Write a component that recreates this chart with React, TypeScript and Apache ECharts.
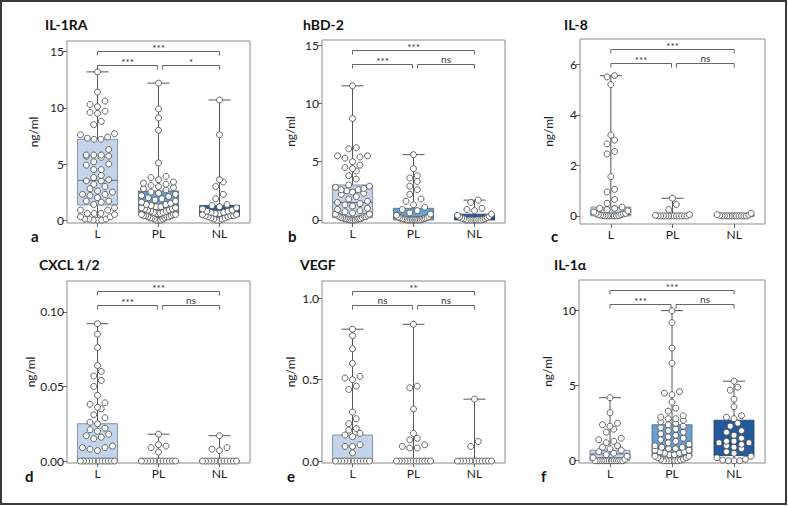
import React, { useEffect, useRef } from "react";
import * as echarts from "echarts";

const FONT = "Lato, 'Open Sans', sans-serif";

// ---------- data ----------
const groups = ["L", "PL", "NL"];
const panelTitles = ["IL-1RA", "hBD-2", "IL-8", "CXCL 1/2", "VEGF", "IL-1α"];
const panelLetters = ["a", "b", "c", "d", "e", "f"];
const yTickValues = [
  [0, 5, 10, 15],
  [0, 5, 10, 15],
  [0, 2, 4, 6],
  [0, 0.05, 0.1],
  [0, 0.5, 1],
  [0, 5, 10],
];
const yTickDecimals = [0, 0, 0, 2, 1, 0];
const yExtents = [
  [-0.25, 15.95],
  [-0.26, 15.43],
  [-0.32, 7.0],
  [-0.0013, 0.1206],
  [-0.012, 1.106],
  [-0.15, 12.04],
];
// significance: L–NL, L–PL, PL–NL
const sigLabels = [
  ["***", "***", "*"],
  ["***", "***", "ns"],
  ["***", "***", "ns"],
  ["***", "***", "ns"],
  ["**", "ns", "ns"],
  ["***", "***", "ns"],
];
const bracketPairs = [
  [0, 2],
  [0, 1],
  [1, 2],
];

// IL-1RA
const il1raL = [13.2, 11.4, 10.6, 10.3, 10.1, 9.7, 9.6, 9.5, 8.8, 8.5, 7.7, 7.6, 7.4, 7.3, 7.2, 7.2, 6.3, 5.8, 5.8, 5.8, 5.7, 5.7, 5.6, 5.2, 5.0, 4.9, 4.5, 4.5, 4.0, 3.8, 3.6, 3.5, 3.5, 3.2, 3.0, 2.8, 2.6, 2.5, 2.3, 2.3, 2.2, 2.0, 1.7, 1.7, 1.6, 1.4, 1.1, 0.9, 0.9, 0.6, 0.6, 0.6, 0.5, 0.3, 0.3, 0.1, 0.1, 0.1, 0.0, 0.0, 0.0];
const il1raPL = [12.2, 9.9, 9.1, 8.0, 5.1, 3.9, 3.8, 3.6, 3.4, 3.3, 3.2, 3.1, 3.0, 2.9, 2.8, 2.7, 2.5, 2.4, 2.3, 2.2, 2.1, 2.0, 1.9, 1.8, 1.7, 1.6, 1.5, 1.4, 1.4, 1.3, 1.2, 1.2, 1.1, 1.1, 1.0, 1.0, 0.9, 0.9, 0.8, 0.8, 0.7, 0.7, 0.6, 0.6, 0.5, 0.5, 0.5, 0.4, 0.4, 0.4, 0.3, 0.3, 0.3, 0.2, 0.2, 0.2, 0.1, 0.1, 0.0, 0.0, 0.0];
const il1raNL = [10.7, 7.6, 3.6, 3.4, 3.0, 2.3, 1.9, 1.4, 1.3, 1.2, 1.1, 1.0, 0.9, 0.8, 0.8, 0.7, 0.7, 0.6, 0.6, 0.5, 0.5, 0.4, 0.4, 0.4, 0.3, 0.3, 0.2, 0.2, 0.1, 0.1, 0.0, 0.0];
const il1raBox = [
  [0, 1.35, 3.55, 7.2, 13.2],
  [0, 0.5, 1.35, 2.6, 12.2],
  [0, 0.35, 0.7, 1.3, 10.7],
];

// hBD-2
const hbd2L = [11.5, 8.7, 6.2, 6.1, 5.5, 5.5, 5.4, 5.3, 5.0, 4.7, 4.5, 4.4, 4.2, 3.8, 3.5, 3.0, 2.9, 2.8, 2.7, 2.6, 2.6, 2.5, 2.4, 2.3, 2.2, 2.0, 1.8, 1.6, 1.5, 1.4, 1.3, 1.2, 1.0, 0.9, 0.8, 0.7, 0.6, 0.5, 0.5, 0.4, 0.4, 0.3, 0.3, 0.3, 0.2, 0.2, 0.2, 0.1, 0.1, 0.1, 0.1, 0.05, 0.05, 0.0, 0.0, 0.0, 0.0];
const hbd2PL = [5.6, 4.4, 3.8, 3.6, 3.3, 2.9, 2.6, 2.2, 1.8, 1.6, 1.3, 1.1, 0.9, 0.8, 0.6, 0.5, 0.4, 0.3, 0.25, 0.2, 0.2, 0.15, 0.1, 0.1, 0.1, 0.05, 0.05, 0.0, 0.0, 0.0, 0.0, 0.0, 0.0, 0.0, 0.0, 0.0];
const hbd2NL = [1.7, 1.5, 1.0, 0.9, 0.8, 0.5, 0.4, 0.3, 0.25, 0.2, 0.15, 0.1, 0.1, 0.05, 0.0, 0.0, 0.0, 0.0, 0.0, 0.0, 0.0, 0.0];
const hbd2Box = [
  [0, 0.2, 1.5, 3.0, 11.5],
  [0, 0, 0.2, 1.0, 5.6],
  [0, 0, 0.15, 0.5, 1.7],
];

// IL-8
const il8L = [5.55, 5.5, 5.2, 3.2, 3.0, 2.85, 2.55, 2.45, 1.55, 1.05, 0.95, 0.65, 0.5, 0.35, 0.3, 0.3, 0.25, 0.2, 0.15, 0.1, 0.1, 0.08, 0.05, 0.05, 0.03, 0.02, 0.01, 0, 0, 0, 0, 0, 0];
const il8PL = [0.7, 0.45, 0.25, 0.05, 0.02, 0, 0, 0, 0, 0, 0, 0, 0, 0, 0, 0, 0];
const il8NL = [0.1, 0.05, 0.03, 0.02, 0, 0, 0, 0, 0, 0, 0, 0, 0, 0, 0];
const il8Box = [
  [0, 0, 0.05, 0.35, 5.55],
  [0, 0, 0, 0.02, 0.7],
  [0, 0, 0, 0.02, 0.1],
];

// CXCL 1/2
const cxclL = [0.092, 0.085, 0.076, 0.064, 0.06, 0.057, 0.054, 0.05, 0.044, 0.039, 0.038, 0.036, 0.035, 0.031, 0.029, 0.026, 0.025, 0.022, 0.021, 0.02, 0.018, 0.017, 0.016, 0.015, 0.01, 0.009, 0.009, 0.008, 0.007, 0, 0, 0, 0, 0, 0, 0, 0, 0, 0, 0, 0];
const cxclPL = [0.018, 0.011, 0.01, 0.009, 0.006, 0, 0, 0, 0, 0, 0, 0, 0, 0, 0, 0, 0];
const cxclNL = [0.017, 0.009, 0.008, 0.007, 0, 0, 0, 0, 0, 0, 0, 0, 0, 0, 0, 0];
const cxclBox = [
  [0, 0, 0.001, 0.025, 0.092],
  [0, 0, 0, 0, 0.018],
  [0, 0, 0, 0, 0.017],
];

// VEGF
const vegfL = [0.81, 0.77, 0.69, 0.6, 0.52, 0.51, 0.5, 0.46, 0.44, 0.3, 0.26, 0.23, 0.2, 0.19, 0.17, 0.16, 0.15, 0.1, 0.09, 0.09, 0.05, 0, 0, 0, 0, 0, 0, 0, 0, 0, 0, 0, 0];
const vegfPL = [0.84, 0.46, 0.45, 0.32, 0.17, 0.14, 0.13, 0.1, 0.09, 0.08, 0.08, 0, 0, 0, 0, 0, 0, 0, 0, 0, 0, 0, 0, 0];
const vegfNL = [0.38, 0.12, 0.09, 0, 0, 0, 0, 0, 0, 0, 0, 0, 0, 0, 0];
const vegfBox = [
  [0, 0, 0.01, 0.16, 0.81],
  [0, 0, 0, 0, 0.84],
  [0, 0, 0, 0, 0.38],
];

// IL-1α
const il1aL = [4.2, 3.2, 2.5, 2.4, 2.3, 2.1, 1.9, 1.5, 1.4, 1.3, 1.2, 1.0, 0.9, 0.8, 0.7, 0.6, 0.5, 0.4, 0.3, 0.2, 0.1, 0, 0, 0, 0, 0, 0, 0, 0, 0, 0, 0, 0, 0, 0];
const il1aPL = [10.0, 9.2, 7.5, 6.5, 4.6, 4.5, 4.4, 3.9, 3.5, 3.3, 3.0, 2.9, 2.8, 2.8, 2.7, 2.6, 2.5, 2.4, 2.3, 2.2, 2.1, 2.0, 1.9, 1.8, 1.7, 1.6, 1.5, 1.4, 1.3, 1.2, 1.1, 1.0, 0.9, 0.9, 0.8, 0.8, 0.7, 0.7, 0.6, 0.6, 0.5, 0.5, 0.4, 0.4, 0.3, 0.3, 0.2, 0.2, 0.1, 0.1, 0.05, 0, 0, 0, 0, 0, 0];
const il1aNL = [5.3, 4.9, 4.7, 4.1, 3.6, 3.0, 2.9, 2.8, 2.5, 2.3, 2.0, 1.9, 1.7, 1.5, 1.3, 1.3, 1.2, 1.2, 1.1, 1.0, 0.9, 0.8, 0.6, 0.5, 0.3, 0.2, 0.1, 0.05, 0, 0, 0];
const il1aBox = [
  [0, 0, 0.45, 0.7, 4.2],
  [0, 0.3, 0.9, 2.4, 10.0],
  [0, 0.35, 1.2, 2.7, 5.3],
];

const panelValues = [
  [il1raL, il1raPL, il1raNL],
  [hbd2L, hbd2PL, hbd2NL],
  [il8L, il8PL, il8NL],
  [cxclL, cxclPL, cxclNL],
  [vegfL, vegfPL, vegfNL],
  [il1aL, il1aPL, il1aNL],
];
const panelBoxes = [il1raBox, hbd2Box, il8Box, cxclBox, vegfBox, il1aBox];

// ---------- layout & style ----------
const gridRects = [
  [67, 41, 183, 182],
  [322, 40, 183, 183],
  [580, 39, 185, 185],
  [67, 281, 183, 182],
  [322, 281, 183, 182],
  [579, 280, 186, 183],
];
const titlePos = [
  [45, 17],
  [303, 17],
  [564, 17],
  [39, 257],
  [300, 257],
  [554, 257],
];
const letterPos = [
  [31, 228],
  [288, 228],
  [551, 228],
  [25, 468],
  [287, 468],
  [541, 468],
];
const nameGaps = [28, 26, 26, 31, 26, 26];
const boxFill = ["#c4d5eb", "#6a9fd1", "#245a9c"];
const boxStroke = ["#6f7f93", "#4d6a8a", "#1e3f6b"];
const medianColor = ["#5f7088", "#3f6286", "#15355f"];
const BOX_HALF = 20;
const CAP_HALF = 11;
const DOT = 6;

function swarm(values: number[], g: number, ext: number[], h: number, w: number) {
  const pxX = w / 3;
  const sorted = [...values].sort((a, b) => a - b);
  const toPx = (v: number) => ((v - ext[0]) / (ext[1] - ext[0])) * h;
  const out: number[][] = [];
  let i = 0;
  while (i < sorted.length) {
    const start = toPx(sorted[i]);
    let j = i;
    while (j < sorted.length && toPx(sorted[j]) - start < DOT) j++;
    const row = sorted.slice(i, j);
    const n = row.length;
    const s = n > 1 ? Math.min(DOT + 1.5, (2 * BOX_HALF - DOT) / (n - 1)) : 0;
    const slots: number[] = [];
    for (let k = 0; k < n; k++) slots.push((k - (n - 1) / 2) * s);
    const order = slots
      .map((o, k) => ({ o, k }))
      .sort((a, b) => Math.abs(a.o) - Math.abs(b.o) || a.o - b.o);
    row.forEach((v, k) => {
      out.push([g + order[k].o / pxX, v]);
    });
    i = j;
  }
  return out;
}

function buildOption() {
  const grid: any[] = [];
  const xAxis: any[] = [];
  const yAxis: any[] = [];
  const series: any[] = [];
  const title: any[] = [];

  gridRects.forEach((r, i) => {
    grid.push({
      left: r[0],
      top: r[1],
      width: r[2],
      height: r[3],
      show: true,
      borderColor: "#8a8a8a",
      borderWidth: 1,
      backgroundColor: "transparent",
    });
    xAxis.push({
      gridIndex: i,
      type: "category",
      data: groups,
      boundaryGap: true,
      position: "bottom",
      axisLine: { show: false, onZero: false },
      axisTick: { show: true, alignWithLabel: true, length: 4, lineStyle: { color: "#666", width: 1 } },
      axisLabel: { margin: 4, fontSize: 12, color: "#222", fontFamily: FONT },
      splitLine: { show: false },
    });
    xAxis.push({
      gridIndex: i,
      type: "value",
      min: -0.5,
      max: 2.5,
      show: false,
      axisLine: { show: false, onZero: false },
      splitLine: { show: false },
    });
    const dec = yTickDecimals[i];
    yAxis.push({
      gridIndex: i,
      type: "value",
      position: "left",
      min: yExtents[i][0],
      max: yExtents[i][1],
      axisLine: { show: false, onZero: false },
      axisTick: { show: true, length: 4, customValues: yTickValues[i], lineStyle: { color: "#666", width: 1 } },
      axisLabel: {
        customValues: yTickValues[i],
        formatter: (v: number) => v.toFixed(dec),
        fontSize: 12,
        color: "#222",
        fontFamily: FONT,
        margin: 3,
      },
      splitLine: { show: false },
      name: "ng/ml",
      nameLocation: "middle",
      nameGap: nameGaps[i],
      nameTextStyle: { fontSize: 12, color: "#222", fontFamily: FONT },
    });

    // boxes
    series.push({
      type: "custom",
      xAxisIndex: 2 * i + 1,
      yAxisIndex: i,
      clip: false,
      silent: true,
      data: panelBoxes[i].map((b, g) => [g, ...b]),
      encode: { x: 0, y: [1, 2, 3, 4, 5] },
      renderItem: (params: any, api: any) => {
        const g = api.value(0);
        const cx = api.coord([g, 0])[0];
        const yMin = api.coord([g, api.value(1)])[1];
        const yQ1 = api.coord([g, api.value(2)])[1];
        const yMed = api.coord([g, api.value(3)])[1];
        const yQ3 = api.coord([g, api.value(4)])[1];
        const yMax = api.coord([g, api.value(5)])[1];
        const ls = { stroke: "#555", lineWidth: 1 };
        return {
          type: "group",
          children: [
            { type: "line", shape: { x1: cx, y1: yMax, x2: cx, y2: yMin }, style: ls },
            { type: "line", shape: { x1: cx - CAP_HALF, y1: yMax, x2: cx + CAP_HALF, y2: yMax }, style: ls },
            {
              type: "rect",
              shape: { x: cx - BOX_HALF, y: yQ3, width: 2 * BOX_HALF, height: Math.max(yQ1 - yQ3, 0) },
              style: { fill: boxFill[g], stroke: boxStroke[g], lineWidth: 0.8 },
            },
            {
              type: "line",
              shape: { x1: cx - BOX_HALF, y1: yMed, x2: cx + BOX_HALF, y2: yMed },
              style: { stroke: medianColor[g], lineWidth: 1 },
            },
          ],
        };
      },
    });

    // dots
    const pts: number[][] = [];
    panelValues[i].forEach((vals, g) => {
      pts.push(...swarm(vals, g, yExtents[i], r[3], r[2]));
    });
    series.push({
      type: "scatter",
      xAxisIndex: 2 * i + 1,
      yAxisIndex: i,
      silent: true,
      symbol: "circle",
      symbolSize: DOT,
      data: pts,
      itemStyle: { color: "#ffffff", borderColor: "#555555", borderWidth: 0.9, opacity: 1 },
      z: 5,
    });

    // significance brackets
    const labels = sigLabels[i];
    series.push({
      type: "custom",
      xAxisIndex: 2 * i + 1,
      yAxisIndex: i,
      clip: false,
      silent: true,
      data: bracketPairs.map((p, k) => [p[0], p[1], k === 0 ? 0 : 1]),
      encode: { x: [0, 1], y: 2 },
      z: 6,
      renderItem: (params: any, api: any) => {
        const cs = params.coordSys;
        const a = api.value(0);
        const b = api.value(1);
        const level = api.value(2);
        let x1 = api.coord([a, 0])[0];
        let x2 = api.coord([b, 0])[0];
        if (b === 1) x2 -= 1;
        if (a === 1) x1 += 4;
        const y = cs.y + (level === 0 ? 10.5 : 24.5);
        const text = labels[params.dataIndex];
        const isStar = text.indexOf("*") >= 0;
        return {
          type: "group",
          children: [
            {
              type: "polyline",
              shape: { points: [[x1, y + 4], [x1, y], [x2, y], [x2, y + 4]] },
              style: { stroke: "#666", lineWidth: 1, fill: "none" },
            },
            {
              type: "text",
              x: (x1 + x2) / 2,
              y: isStar ? y + 1 : y - 1,
              style: {
                text,
                fill: "#333",
                font: `10px ${FONT}`,
                fontSize: 10,
                fontFamily: FONT,
                align: "center",
                textAlign: "center",
                verticalAlign: "bottom",
                textVerticalAlign: "bottom",
              },
            },
          ],
        };
      },
    });

    title.push({
      text: panelTitles[i],
      left: titlePos[i][0],
      top: titlePos[i][1],
      padding: 0,
      textStyle: { fontFamily: FONT, fontWeight: "bold", fontSize: 14, color: "#111" },
    });
    title.push({
      text: panelLetters[i],
      left: letterPos[i][0],
      top: letterPos[i][1],
      padding: 0,
      textStyle: { fontFamily: FONT, fontWeight: "bold", fontSize: 15, color: "#111" },
    });
  });

  return {
    animation: false,
    backgroundColor: "#ffffff",
    title,
    grid,
    xAxis,
    yAxis,
    series,
    graphic: [
      {
        type: "rect",
        shape: { x: 1, y: 1, width: 785, height: 503 },
        style: { fill: "transparent", stroke: "#3a3a3a", lineWidth: 2 },
        silent: true,
        z: 100,
      },
    ],
  };
}

export default function App() {
  const ref = useRef<HTMLDivElement>(null);
  useEffect(() => {
    document.body.style.margin = "0";
    if (!ref.current) return;
    const chart = echarts.init(ref.current, null, { renderer: "svg" });
    chart.setOption(buildOption() as any);
    return () => {
      chart.dispose();
    };
  }, []);
  return <div ref={ref} style={{ width: 788, height: 506 }} />;
}
